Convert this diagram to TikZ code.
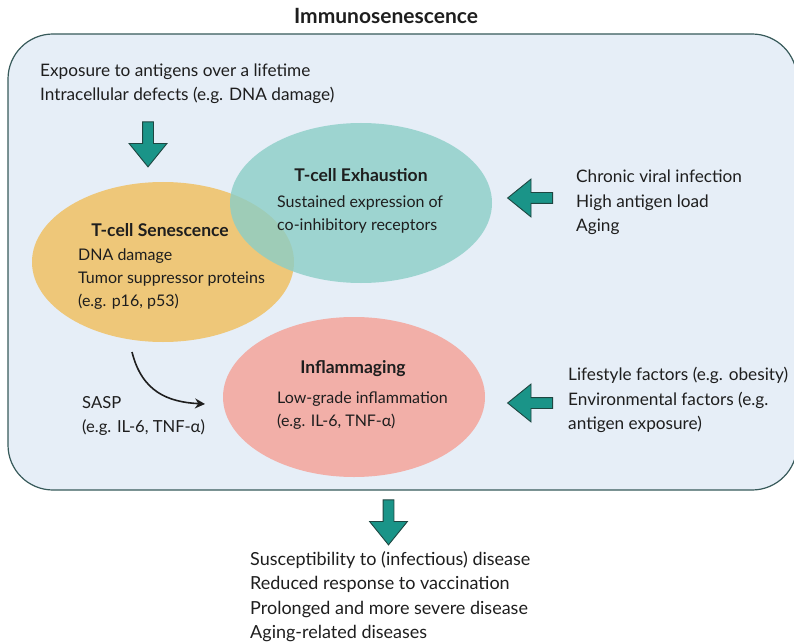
\documentclass[tikz,border=0pt]{standalone}
\usepackage{fontspec}
\setmainfont{Lato}
\usepackage{tikz}
\usetikzlibrary{shapes.geometric, shapes.arrows, positioning, arrows.meta}

\definecolor{framefill}{RGB}{230,238,247}
\definecolor{frameline}{RGB}{55,90,90}
\definecolor{arrowfill}{RGB}{26,148,136}
\definecolor{arrowline}{RGB}{30,70,65}
\definecolor{senorange}{RGB}{238,199,121}
\definecolor{exhteal}{RGB}{139,206,199}
\definecolor{inflpink}{RGB}{242,175,168}
\definecolor{textgray}{RGB}{30,30,30}

\tikzset{
  cell/.style={ellipse, minimum width=262pt, minimum height=160pt, inner sep=0pt},
  bigarrow/.style={single arrow, draw=arrowline, fill=arrowfill, line width=0.9pt,
    minimum height=45pt, single arrow head extend=13.5pt,
    single arrow tip angle=78, inner sep=5pt},
  heading/.style={font=\bfseries\fontsize{17.5}{21}\selectfont, text=textgray},
  txt/.style={align=left, anchor=west, inner xsep=0pt, font=\fontsize{17.2}{24.3}\selectfont, text=textgray},
  celltxt/.style={txt, font=\fontsize{16}{23}\selectfont}
}

\begin{document}
\begin{tikzpicture}[x=1pt, y=-1pt]
        \useasboundingbox (0,0) rectangle (794,644);

        % Titre et cadre
        \node[font=\bfseries\fontsize{21}{25}\selectfont, text=textgray] (title) at (386,16) {Immunosenescence};
        \draw[draw=frameline, fill=framefill, line width=1.2pt, rounded corners=45pt] (8,34) rectangle (797,490);

        % Ellipses
        \node[cell, fill=senorange] (sen) at (163,262) {};
        \node[cell, fill=exhteal, fill opacity=0.8] (exh) at (361,203) {};
        \node[cell, fill=inflpink] (infl) at (354,397) {};

        % Textes dans les ellipses
        \node[heading] (sentitle) at (160,230) {T-cell Senescence};
        \node[celltxt] (senbody) at (78,279.5) {DNA damage\\Tumor suppressor proteins\\(e.g. p16, p53)};
        \node[heading] (exhtitle) at (361,175) {T-cell Exhaustion};
        \node[celltxt] (exhbody) at (277,214.5) {Sustained expression of\\co-inhibitory receptors};
        \node[heading] (infltitle) at (353,369) {Inflammaging};
        \node[celltxt] (inflbody) at (277,410.5) {Low-grade inflammation\\(e.g. IL-6, TNF-α)};

        % Causes
        \node[txt] (expo) at (40,83.7) {Exposure to antigens over a lifetime\\Intracellular defects (e.g. DNA damage)};
        \node[txt] (chronic) at (576,202.5) {Chronic viral infection\\High antigen load\\Aging};
        \node[txt] (life) at (568,400) {Lifestyle factors (e.g. obesity)\\Environmental factors (e.g.\\antigen exposure)};
        \node[txt, font=\fontsize{16.6}{24}\selectfont] (sasp) at (82,415.5) {SASP\\(e.g. IL-6, TNF-α)};

        % Fleches
        \node[bigarrow, rotate=270] (arrexpo) at (148,141) {};
        \node[bigarrow, rotate=180] (arrchronic) at (533.5,198) {};
        \node[bigarrow, rotate=180] (arrlife) at (533.5,403) {};
        \node[bigarrow, rotate=270] (arrout) at (388.5,519) {};

        \coordinate (saspstart) at (132,352);
        \coordinate (saspend) at (205,404);
        \draw[-{Stealth[length=10pt,width=10pt]}, line width=1.6pt, textgray] (saspstart) .. controls (142,392) and (168,402) .. (saspend);

        % Consequences
        \node[txt, font=\fontsize{18}{24.4}\selectfont] (outcome) at (250,596.5) {Susceptibility to (infectious) disease\\Reduced response to vaccination\\Prolonged and more severe disease\\Aging-related diseases};
    \end{tikzpicture}
\end{document}
